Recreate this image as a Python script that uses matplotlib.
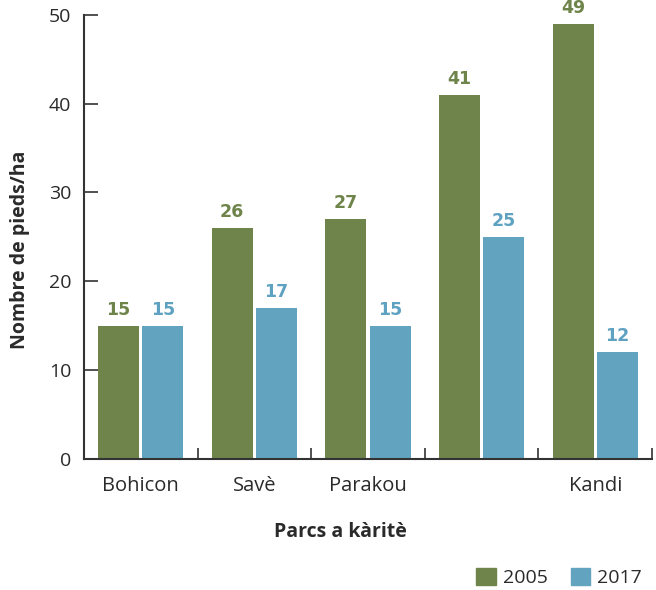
import matplotlib
matplotlib.use("Agg")
import matplotlib.pyplot as plt
import numpy as np
from matplotlib.patches import Patch

categories = ["Bohicon", "Savè", "Parakou", "", "Kandi"]
values_2005 = [15, 26, 27, 41, 49]
values_2017 = [15, 17, 15, 25, 12]
series_names = ["2005", "2017"]
yticks = [0, 10, 20, 30, 40, 50]

green = "#6f844a"
blue = "#62a3bf"
green_txt = "#6f844a"
blue_txt = "#5fa1c1"
axis_col = "#333333"
text_col = "#2a2a2a"

plt.rcParams['font.family'] = ['Open Sans', 'DejaVu Sans']

fig = plt.figure(figsize=(6.56, 5.90), dpi=100)
ax = fig.add_axes([0.128, 0.222, 0.866, 0.753])

x = np.arange(len(categories))
w = 0.36
gap = 0.03
b1 = ax.bar(x - w/2 - gap/2, values_2005, width=w, color=green)
b2 = ax.bar(x + w/2 + gap/2, values_2017, width=w, color=blue)

for bars, vals, col in ((b1, values_2005, green_txt), (b2, values_2017, blue_txt)):
    for rect, v in zip(bars, vals):
        ax.text(rect.get_x() + rect.get_width()/2, v + 1.25, str(v), ha='center', va='baseline',
                color=col, fontsize=12.5, fontweight='bold', family='DejaVu Sans', clip_on=False)

ax.set_xlim(-0.5, len(categories) - 0.5)
ax.set_ylim(0, 50)
ax.set_yticks(yticks)
ax.set_yticklabels([str(t) for t in yticks], fontsize=14, color=text_col)
ax.tick_params(axis='y', direction='in', length=10, width=1.2, color=axis_col, pad=9)

ax.set_xticks(list(np.arange(len(categories)) + 0.5), minor=False)
ax.set_xticklabels([''] * len(categories))
ax.tick_params(axis='x', which='major', direction='in', length=8, width=1.2, color=axis_col)
ax.set_xticks(x, minor=True)
ax.set_xticklabels(categories, minor=True, fontsize=14.5, color=text_col)
ax.tick_params(axis='x', which='minor', length=0, pad=12)

for s in ['top', 'right']:
    ax.spines[s].set_visible(False)
for s in ['left', 'bottom']:
    ax.spines[s].set_color(axis_col)
    ax.spines[s].set_linewidth(1.5)

ax.set_ylabel("Nombre de pieds/ha", fontsize=14, fontweight='bold', color=text_col)
ax.yaxis.set_label_coords(-0.095, 0.47)
ax.set_xlabel("Parcs a kàritè", fontsize=14, fontweight='bold', color=text_col)
ax.xaxis.set_label_coords(0.452, -0.142)

handles = [Patch(color=green), Patch(color=blue)]
fig.legend(handles, series_names, loc='lower right', bbox_to_anchor=(1.005, -0.025), ncol=2,
           frameon=False, fontsize=14, handlelength=1.0, handleheight=1.0, handletextpad=0.35,
           columnspacing=1.2, labelcolor=text_col)

fig.savefig("out.png", dpi=100)
